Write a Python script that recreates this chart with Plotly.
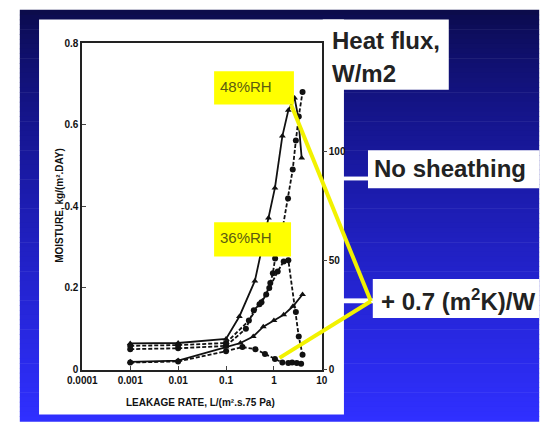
import plotly.graph_objects as go

W, H = 550, 435

# leakage rate (L/(m2.s.75 Pa)) and moisture (kg/(m2.DAY))
t_x = [0.001, 0.01, 0.1, 0.19, 0.4, 0.77, 1.05, 1.5, 2.0, 2.7, 3.2, 3.8]
t_y = [0.064, 0.065, 0.075, 0.13, 0.217, 0.371, 0.445, 0.572, 0.635, 0.665, 0.62, 0.518]

c_x = [0.001, 0.01, 0.1, 0.26, 0.38, 0.55, 0.69, 0.84, 0.95, 1.06, 1.47, 1.97, 2.47, 2.87, 3.3, 3.96]
c_y = [0.05, 0.052, 0.058, 0.1, 0.145, 0.165, 0.184, 0.212, 0.236, 0.272, 0.336, 0.419, 0.49, 0.561, 0.62, 0.68]

f_x = [0.001, 0.01, 0.1, 0.3, 0.5, 0.8, 1.2, 1.6, 2.0, 2.87, 3.3, 3.96]
f_y = [0.058, 0.06, 0.065, 0.12, 0.16, 0.2, 0.24, 0.265, 0.268, 0.141, 0.081, 0.036]

d_x = [0.001, 0.01, 0.1, 0.2, 0.37, 0.6, 1.0, 1.6, 2.5, 3.96]
d_y = [0.019, 0.022, 0.055, 0.065, 0.081, 0.105, 0.12, 0.134, 0.155, 0.184]

e_x = [0.001, 0.01, 0.1, 0.22, 0.41, 0.65, 1.05, 1.5, 2.0, 2.4, 3.0, 3.7]
e_y = [0.017, 0.02, 0.045, 0.055, 0.05, 0.038, 0.026, 0.017, 0.016, 0.017, 0.016, 0.014]

x_ticks = [0.0001, 0.001, 0.01, 0.1, 1, 10]
x_labels = ["0.0001", "0.001", "0.01", "0.1", "1", "10"]
y_ticks = [0, 0.2, 0.4, 0.6, 0.8]
y_labels = ["0", "0.2", "0.4", "0.6", "0.8"]
flux_ticks = [0, 50, 100]


def px(x):
    return x / W


def py(y):
    return 1 - y / H


def rect(x0, y0, x1, y1, color, layer="below"):
    return dict(type="rect", xref="paper", yref="paper",
                x0=px(x0), x1=px(x1), y0=py(y1), y1=py(y0),
                fillcolor=color, line=dict(width=0), layer=layer)


shapes = []
# blue gradient backdrop
n = 85
top, bot = 5, 427
for i in range(n):
    y0 = top + (bot - top) * i / n
    y1 = top + (bot - top) * (i + 1) / n + 0.6
    t = i / (n - 1)
    r = int(12 + 36 * t)
    b = int(75 + 180 * t ** 0.75)
    shapes.append(rect(5, y0, 545, y1, f"rgb({r},{r},{b})"))

# white panels and label boxes
shapes.append(rect(25, 15, 342, 420, "white"))
shapes.append(rect(320, 15, 451, 87, "white"))
shapes.append(rect(367, 149, 545, 188, "white"))
shapes.append(rect(340, 176, 368, 180, "white"))
shapes.append(rect(372, 281, 545, 321, "white"))
shapes.append(rect(340, 301, 373, 306, "white"))

# yellow call-outs
shapes.append(rect(207, 68, 290, 102, "#ffff00", "above"))
shapes.append(rect(207, 223, 287, 258, "#ffff00", "above"))
for (xa, ya, xb, yb) in [(287, 102, 370, 304), (275, 362, 370, 304)]:
    shapes.append(dict(type="line", xref="paper", yref="paper",
                       x0=px(xa), y0=py(ya), x1=px(xb), y1=py(yb),
                       line=dict(color="#f2f200", width=4), layer="above"))

fig = go.Figure()

curves = [
    (t_x, t_y, "solid", "triangle-up"),
    (c_x, c_y, "4px,2px", "circle"),
    (f_x, f_y, "4px,2px", "circle"),
    (d_x, d_y, "solid", "triangle-up"),
    (e_x, e_y, "4px,2px", "circle"),
]
for xs, ys, dash, sym in curves:
    fig.add_trace(go.Scatter(
        x=xs, y=ys, mode="lines+markers",
        line=dict(color="#111", width=1.8, dash=dash),
        marker=dict(color="#111", size=6, symbol=sym),
        showlegend=False,
    ))
# invisible trace to carry the heat flux axis
fig.add_trace(go.Scatter(x=[1], y=[0], yaxis="y2", mode="markers",
                         marker=dict(opacity=0), showlegend=False,
                         hoverinfo="skip"))

tick_font = dict(family="Arial", size=10, color="#111", weight="bold")

fig.update_layout(
    width=W, height=H,
    margin=dict(l=0, r=0, t=0, b=0),
    paper_bgcolor="white",
    plot_bgcolor="rgba(0,0,0,0)",
    shapes=shapes,
    xaxis=dict(type="log", range=[-4, 1], domain=[70 / W, 319 / W],
               tickvals=x_ticks, ticktext=x_labels, ticks="inside", ticklen=4,
               showline=True, linecolor="#222", linewidth=2, mirror=True,
               showgrid=False, zeroline=False, tickfont=tick_font),
    yaxis=dict(range=[0, 0.8], domain=[py(374), py(39)],
               tickvals=y_ticks, ticktext=y_labels, ticks="inside", ticklen=4,
               showline=True, linecolor="#222", linewidth=2, mirror=True,
               showgrid=False, zeroline=False, tickfont=tick_font),
    yaxis2=dict(range=[0, 150], overlaying="y", side="right",
                tickvals=flux_ticks, ticks="outside", ticklen=4,
                showline=False, showgrid=False, zeroline=False,
                tickfont=tick_font),
)

big = dict(family="Arial", size=24, color="#222", weight="bold")
rh = dict(family="Arial", size=15, color="#5c5c10")
small = dict(family="Arial", size=10, color="#111", weight="bold")
notes = [
    dict(x=px(327), y=py(36), text="Heat flux,", xanchor="left", font=big),
    dict(x=px(327), y=py(70), text="W/m2", xanchor="left", font=big),
    dict(x=px(371), y=py(168), text="No sheathing", xanchor="left", font=big),
    dict(x=px(378), y=py(303), text="+ 0.7 (m<sup>2</sup>K)/W", xanchor="left",
         font=big),
    dict(x=px(211), y=py(84), text="48%RH", xanchor="left", font=rh),
    dict(x=px(211), y=py(239), text="36%RH", xanchor="left", font=rh),
    dict(x=px(193), y=py(408), text="LEAKAGE RATE, L/(m\u00b2.s.75 Pa)", font=small),
    dict(x=px(39), y=py(206), text="MOISTURE, kg/(m\u00b2.DAY)", textangle=-90,
         font=small),
]
for a in notes:
    a.update(xref="paper", yref="paper", showarrow=False, yanchor="middle")
    fig.add_annotation(**a)

fig.write_html("out.html", config={"displayModeBar": False},
               post_script="document.body.style.margin='0';"
                           "document.body.style.overflow='hidden';")
